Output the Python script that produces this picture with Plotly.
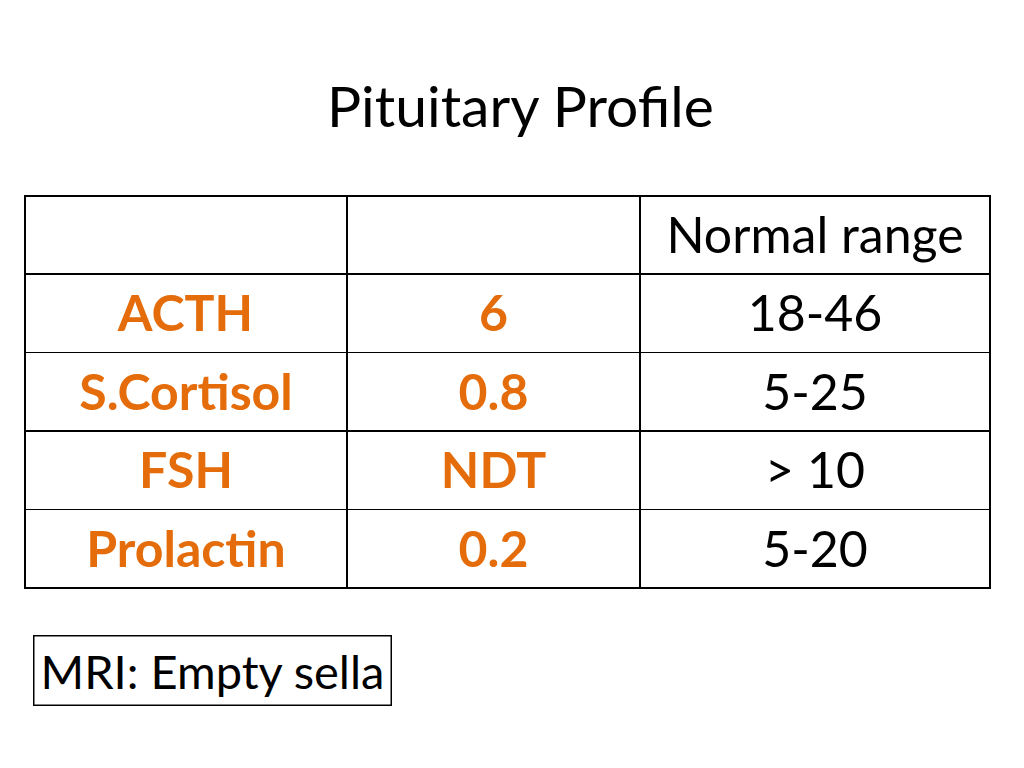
import plotly.graph_objects as go

W, H = 1024, 768
header = ["", "", "Normal range"]
tests = ["ACTH", "S.Cortisol", "FSH", "Prolactin"]
values = ["6", "0.8", "NDT", "0.2"]
ranges = ["18-46", "5-25", "> 10", "5-20"]
title = "Pituitary Profile"
note = "MRI: Empty sella"

orange = "#E46C0A"
FONT = "Lato"
fig = go.Figure(go.Table(
    domain=dict(x=[17/W, 982/W], y=[0, 1-188/H]),
    columnwidth=[322, 293, 350],
    header=dict(values=[f"<span>{h}</span>" for h in header], height=78, align="center",
                line=dict(color="black", width=1.5), fill=dict(color="white"),
                font=dict(family=FONT, size=50, color="black")),
    cells=dict(values=[[f"<b>{t}</b>" for t in tests], [f"<b>{v}</b>" for v in values],
                       [f"<span>{r}</span>" for r in ranges]],
               height=78.5, align="center",
               line=dict(color="black", width=1.5), fill=dict(color="white"),
               font=dict(family=FONT, size=50, color=[orange, orange, "black"])),
))
fig.add_annotation(text=title, x=0.5, y=1-97/H, xref="paper", yref="paper",
                   yanchor="middle", showarrow=False,
                   font=dict(family=FONT, size=57, color="black"))
fig.add_annotation(text=note, x=25/W, y=1-627/H, xref="paper", yref="paper",
                   xanchor="left", yanchor="top", showarrow=False,
                   bordercolor="black", borderwidth=1.5, borderpad=6,
                   font=dict(family=FONT, size=47, color="black"))
fig.update_layout(width=W, height=H, margin=dict(l=0, r=0, t=0, b=0),
                  paper_bgcolor="white", plot_bgcolor="white")
fig.write_html("out.html")
